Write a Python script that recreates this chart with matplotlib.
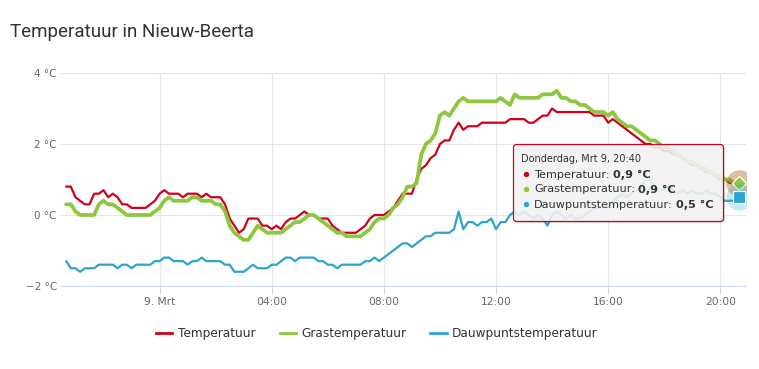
# 步骤 1：导入需要的库
import matplotlib
matplotlib.use("Agg")
import pandas as pd
import matplotlib.pyplot as plt
import matplotlib.dates as mdates
from matplotlib.lines import Line2D
from matplotlib.patches import FancyBboxPatch, Circle
from matplotlib.ticker import FuncFormatter

# 步骤 2：数据准备 (metingen per 10 minuten, 8 mrt 20:40 t/m 9 mrt 20:40)
times = pd.date_range("2023-03-08 20:40", "2023-03-09 20:40", freq="10min")

temperatuur = [
    0.8, 0.8, 0.5, 0.4, 0.3, 0.3, 0.6, 0.6, 0.7, 0.5, 0.6, 0.5, 0.3, 0.3, 0.2, 0.2, 0.2, 0.2, 0.3, 0.4,
    0.6, 0.7, 0.6, 0.6, 0.6, 0.5, 0.6, 0.6, 0.6, 0.5, 0.6, 0.5, 0.5, 0.5, 0.3, -0.1, -0.3, -0.5, -0.4, -0.1,
    -0.1, -0.1, -0.3, -0.3, -0.4, -0.3, -0.4, -0.2, -0.1, -0.1, 0.0, 0.1, 0.0, 0.0, -0.1, -0.1, -0.1, -0.3, -0.4, -0.5,
    -0.5, -0.5, -0.5, -0.4, -0.3, -0.1, 0.0, 0.0, 0.0, 0.1, 0.2, 0.4, 0.6, 0.6, 0.6, 1.0, 1.3, 1.4, 1.6, 1.7,
    2.0, 2.1, 2.1, 2.4, 2.6, 2.4, 2.5, 2.5, 2.5, 2.6, 2.6, 2.6, 2.6, 2.6, 2.6, 2.7, 2.7, 2.7, 2.7, 2.6,
    2.6, 2.7, 2.8, 2.8, 3.0, 2.9, 2.9, 2.9, 2.9, 2.9, 2.9, 2.9, 2.9, 2.8, 2.8, 2.8, 2.6, 2.7, 2.6, 2.5,
    2.4, 2.3, 2.2, 2.1, 2.0, 2.0, 1.9, 1.9, 1.8, 1.8, 1.7, 1.7, 1.6, 1.5, 1.4, 1.4, 1.3, 1.2, 1.2, 1.1,
    1.0, 1.0, 0.9, 0.9, 0.9,
]
grastemperatuur = [
    0.3, 0.3, 0.1, 0.0, 0.0, 0.0, 0.0, 0.3, 0.4, 0.3, 0.3, 0.2, 0.1, 0.0, 0.0, 0.0, 0.0, 0.0, 0.0, 0.1,
    0.2, 0.4, 0.5, 0.4, 0.4, 0.4, 0.4, 0.5, 0.5, 0.4, 0.4, 0.4, 0.3, 0.3, 0.1, -0.3, -0.5, -0.6, -0.7, -0.7,
    -0.5, -0.3, -0.4, -0.5, -0.5, -0.5, -0.5, -0.4, -0.3, -0.2, -0.2, -0.1, 0.0, 0.0, -0.1, -0.2, -0.3, -0.4, -0.5, -0.5,
    -0.6, -0.6, -0.6, -0.6, -0.5, -0.4, -0.2, -0.1, -0.1, 0.0, 0.2, 0.3, 0.5, 0.8, 0.8, 0.9, 1.7, 2.0, 2.1, 2.3,
    2.8, 2.9, 2.8, 3.0, 3.2, 3.3, 3.2, 3.2, 3.2, 3.2, 3.2, 3.2, 3.2, 3.3, 3.2, 3.1, 3.4, 3.3, 3.3, 3.3,
    3.3, 3.3, 3.4, 3.4, 3.4, 3.5, 3.3, 3.3, 3.2, 3.2, 3.1, 3.1, 3.0, 2.9, 2.9, 2.9, 2.8, 2.9, 2.7, 2.6,
    2.5, 2.5, 2.4, 2.3, 2.2, 2.1, 2.1, 2.0, 1.9, 1.9, 1.8, 1.7, 1.6, 1.5, 1.5, 1.4, 1.3, 1.3, 1.2, 1.1,
    1.1, 1.0, 1.0, 0.9, 0.9,
]
dauwpunt = [
    -1.3, -1.5, -1.5, -1.6, -1.5, -1.5, -1.5, -1.4, -1.4, -1.4, -1.4, -1.5, -1.4, -1.4, -1.5, -1.4, -1.4, -1.4, -1.4, -1.3,
    -1.3, -1.2, -1.2, -1.3, -1.3, -1.3, -1.4, -1.3, -1.3, -1.2, -1.3, -1.3, -1.3, -1.3, -1.4, -1.4, -1.6, -1.6, -1.6, -1.5,
    -1.4, -1.5, -1.5, -1.5, -1.4, -1.4, -1.3, -1.2, -1.2, -1.3, -1.2, -1.2, -1.2, -1.2, -1.3, -1.3, -1.4, -1.4, -1.5, -1.4,
    -1.4, -1.4, -1.4, -1.4, -1.3, -1.3, -1.2, -1.3, -1.2, -1.1, -1.0, -0.9, -0.8, -0.8, -0.9, -0.8, -0.7, -0.6, -0.6, -0.5,
    -0.5, -0.5, -0.5, -0.4, 0.1, -0.4, -0.2, -0.2, -0.3, -0.2, -0.2, -0.1, -0.4, -0.2, -0.2, 0.0, 0.1, 0.0, 0.1, 0.0,
    -0.1, 0.0, -0.1, -0.3, 0.0, 0.1, 0.0, -0.1, 0.0, -0.1, -0.1, 0.0, 0.1, 0.2, 0.2, 0.3, 0.2, 0.4, 0.5, 0.6,
    0.5, 0.6, 0.7, 0.8, 1.0, 1.0, 0.8, 0.7, 0.7, 0.8, 0.7, 0.6, 0.7, 0.6, 0.7, 0.6, 0.6, 0.7, 0.6, 0.6,
    0.5, 0.4, 0.4, 0.4, 0.5,
]
assert len(temperatuur) == len(grastemperatuur) == len(dauwpunt) == len(times)

series = [
    ("Temperatuur", temperatuur, "#d0021b", 1.6, "o"),
    ("Grastemperatuur", grastemperatuur, "#8dc63f", 2.7, "D"),
    ("Dauwpuntstemperatuur", dauwpunt, "#2ca4d1", 1.6, "s"),
]
dagen = ["Maandag", "Dinsdag", "Woensdag", "Donderdag", "Vrijdag", "Zaterdag", "Zondag"]

W, H = 759, 369

# 步骤 3：创建绘图对象
fig = plt.figure(figsize=(W / 100, H / 100), dpi=100)
ax = fig.add_axes([61 / W, 1 - 286 / H, 685 / W, 213 / H])

# 步骤 4：调用相关绘图函数
for i, (name, vals, col, lw, mk) in enumerate(series):
    ax.plot(times, vals, color=col, lw=lw, zorder=3 + i,
            solid_joinstyle="round", solid_capstyle="round")

# hover-markers op het laatste punt
for i, (name, vals, col, lw, mk) in enumerate(series):
    ax.plot(times[-1:], vals[-1:], "o", ms=19, color=col, alpha=0.25,
            mec="none", zorder=20 + 2 * i)
    ax.plot(times[-1:], vals[-1:], mk, ms=8 if mk != "D" else 7.5, color=col,
            mec="white", mew=0.8, zorder=21 + 2 * i)

# 步骤 5：外观设置
ax.set_ylim(-2, 4)
ax.set_yticks([-2, 0, 2, 4])
ax.yaxis.set_major_formatter(FuncFormatter(lambda v, p: f"{v:.0f} °C".replace("-", "\u2212")))
ax.set_xlim(pd.Timestamp("2023-03-08 20:29"), pd.Timestamp("2023-03-09 20:55"))
ax.xaxis.set_major_locator(mdates.HourLocator(byhour=[0, 4, 8, 12, 16, 20]))


def tijd_label(v, pos):
    d = mdates.num2date(v)
    return f"{d.day}. Mrt" if d.hour == 0 else d.strftime("%H:%M")


ax.xaxis.set_major_formatter(FuncFormatter(tijd_label))
ax.grid(True, color="#e6e6e6", lw=0.75)
ax.set_axisbelow(True)
for s in ["top", "left", "right"]:
    ax.spines[s].set_visible(False)
ax.spines["bottom"].set_color("#ccd6eb")
ax.spines["bottom"].set_linewidth(0.75)
ax.tick_params(axis="x", length=5.5, width=0.75, color="#ccd6eb",
               labelsize=7.7, labelcolor="#666666", pad=2.5)
ax.tick_params(axis="y", length=0, labelsize=7.5, labelcolor="#666666", pad=3)

fig.text(10 / W, 1 - 32 / H, "Temperatuur in Nieuw-Beerta", fontsize=13.5,
         family="Roboto", color="#333333", va="center", ha="left")

handles = [Line2D([], [], color=c, lw=2) for _, _, c, _, _ in series]
fig.legend(handles, [s[0] for s in series], loc="center",
           bbox_to_anchor=(377 / W, 1 - 334 / H), ncol=3, frameon=False,
           fontsize=8.7, labelcolor="#333333", handlelength=1.35,
           handletextpad=0.45, columnspacing=2.0)

# tooltip
inch = fig.dpi_scale_trans
x0, y0, x1, y1 = 513.5, 144.5, 723.5, 221.5
shadow = FancyBboxPatch(((x0 + 1.5) / 100, (H - y1 - 1.5) / 100), (x1 - x0) / 100, (y1 - y0) / 100,
                        boxstyle="round,pad=0,rounding_size=0.03", transform=inch,
                        fc="#000000", ec="none", alpha=0.12, zorder=30)
box = FancyBboxPatch((x0 / 100, (H - y1) / 100), (x1 - x0) / 100, (y1 - y0) / 100,
                     boxstyle="round,pad=0,rounding_size=0.03", transform=inch,
                     fc=(0.969, 0.969, 0.969, 0.87), ec=series[0][2], lw=0.9, zorder=31)
fig.add_artist(shadow)
fig.add_artist(box)

last = times[-1]
kop = f"{dagen[last.weekday()]}, Mrt {last.day}, {last.strftime('%H:%M')}"
fig.text(521 / W, 1 - 159.5 / H, kop, fontsize=7.0, color="#333333",
         va="center", ha="left", zorder=32)

renderer = fig.canvas.get_renderer()
for i, (name, vals, col, lw, mk) in enumerate(series):
    yy = 1 - (174.5 + 15 * i) / H
    fig.add_artist(Circle((526.5 / 100, (H - 174.5 - 15 * i) / 100), 0.027,
                          transform=inch, fc=col, ec="none", zorder=32))
    t = fig.text(534 / W, yy, f"{name}:", fontsize=8.1, color="#333333",
                 va="center", ha="left", zorder=32)
    bb = t.get_window_extent(renderer)
    waarde = f"{vals[-1]:.1f}".replace(".", ",") + " °C"
    fig.text((bb.x1 + 3.5) / W, yy, waarde, fontsize=8.1, weight="bold",
             color="#333333", va="center", ha="left", zorder=32)

# 步骤 6：结果输出
fig.savefig("out.png", dpi=100)
